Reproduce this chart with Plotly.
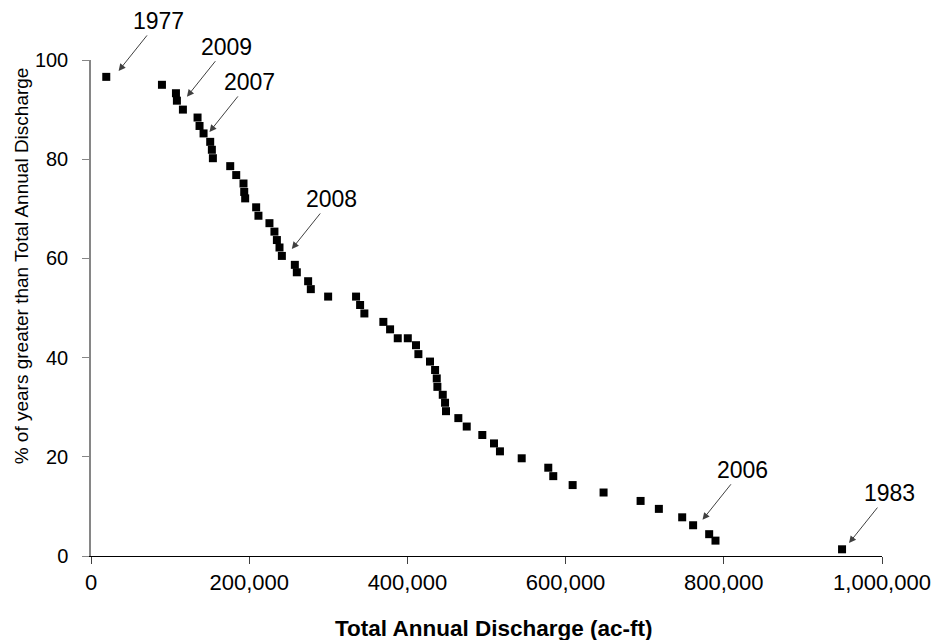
import plotly.graph_objects as go

# Total annual discharge (ac-ft) and % of years greater than it
discharge = [19300, 89700, 107400, 108600, 116200, 134700, 137200, 142300, 150700, 152800,
             154100, 176000, 183600, 192800, 193700, 194900, 208800, 211700, 225600, 231900,
             235000, 238300, 241300, 257700, 260200, 274500, 277900, 299800, 335100, 340200,
             345600, 369600, 378100, 387800, 400500, 410900, 413900, 428600, 435000, 437100,
             437900, 444700, 447600, 448800, 464400, 475000, 494700, 509500, 517000, 544500,
             578100, 584400, 608900, 648000, 694800, 717900, 747400, 761200, 781500, 789500,
             949500]
pct_greater = [96.6, 95.0, 93.3, 91.8, 90.0, 88.4, 86.7, 85.2, 83.5, 81.9,
               80.2, 78.6, 76.8, 75.1, 73.4, 72.1, 70.3, 68.6, 67.1, 65.4,
               63.7, 62.2, 60.5, 58.7, 57.2, 55.4, 53.8, 52.3, 52.3, 50.6,
               48.9, 47.2, 45.7, 43.9, 43.9, 42.5, 40.7, 39.2, 37.5, 35.8,
               34.1, 32.5, 30.9, 29.2, 27.8, 26.1, 24.4, 22.7, 21.1, 19.7,
               17.8, 16.1, 14.3, 12.8, 11.1, 9.5, 7.8, 6.2, 4.4, 3.1,
               1.35]

# Labelled years: arrow tip positions (data units)
label_years = ["1977", "2009", "2007", "2008", "2006", "1983"]
label_x = [34900, 121300, 149800, 253900, 773100, 958300]
label_y = [97.8, 92.6, 85.5, 61.9, 7.3, 2.6]

x_ticks = [0, 200000, 400000, 600000, 800000, 1000000]
x_ticktext = ["0", "200,000", "400,000", "600,000", "800,000", "1,000,000"]
y_ticks = [0, 20, 40, 60, 80, 100]

FONT = "Liberation Sans, Arial, sans-serif"

W, H = 936, 640
L, R, T, B = 90.7, 53.7, 60, 84
PW = W - L - R
PH = H - T - B

fig = go.Figure()
fig.add_trace(go.Scatter(
    x=discharge, y=pct_greater, mode="markers",
    marker=dict(symbol="square", size=8, color="black", line=dict(width=0)),
    cliponaxis=False, showlegend=False,
))

annotations = []
for yr, lx, ly in zip(label_years, label_x, label_y):
    annotations.append(dict(
        x=lx, y=ly, xref="x", yref="y", text=yr, showarrow=True,
        ax=40, ay=-50, axref="pixel", ayref="pixel",
        arrowhead=2, arrowsize=1.4, arrowwidth=1, arrowcolor="#404040",
        font=dict(family=FONT, size=23, color="black"),
    ))

annotations.append(dict(
    text="<b>Total Annual Discharge (ac-ft)</b>", xref="paper", yref="paper",
    x=(494 - L) / PW, y=-(628 - 556) / PH, showarrow=False,
    xanchor="center", yanchor="middle",
    font=dict(family=FONT, size=22.5, color="black"),
))
annotations.append(dict(
    text="% of years greater than Total Annual Discharge", xref="paper", yref="paper",
    x=-(L - 21) / PW, y=(556 - 266) / PH, showarrow=False, textangle=-90,
    xanchor="center", yanchor="middle",
    font=dict(family=FONT, size=19, color="black"),
))

fig.update_layout(
    width=W, height=H,
    margin=dict(l=L, r=R, t=T, b=B, autoexpand=False),
    paper_bgcolor="white", plot_bgcolor="white",
    annotations=annotations,
    xaxis=dict(
        range=[0, 1000000], tickvals=x_ticks, ticktext=x_ticktext,
        showgrid=False, zeroline=False, showline=True, linecolor="black", linewidth=1,
        ticks="outside", ticklen=7, tickcolor="#404040", tickwidth=1,
        tickfont=dict(family=FONT, size=22, color="black"),
    ),
    yaxis=dict(
        range=[0, 100], tickvals=y_ticks,
        showgrid=False, zeroline=False, showline=True, linecolor="#868686", linewidth=1.5,
        ticks="outside", ticklen=7, tickcolor="#868686", tickwidth=1,
        tickfont=dict(family=FONT, size=20, color="black"), ticklabelstandoff=10,
    ),
)

fig.write_html(
    "out.html",
    config={"displayModeBar": False},
    post_script="document.body.style.margin='0';document.body.style.overflow='hidden';",
)
